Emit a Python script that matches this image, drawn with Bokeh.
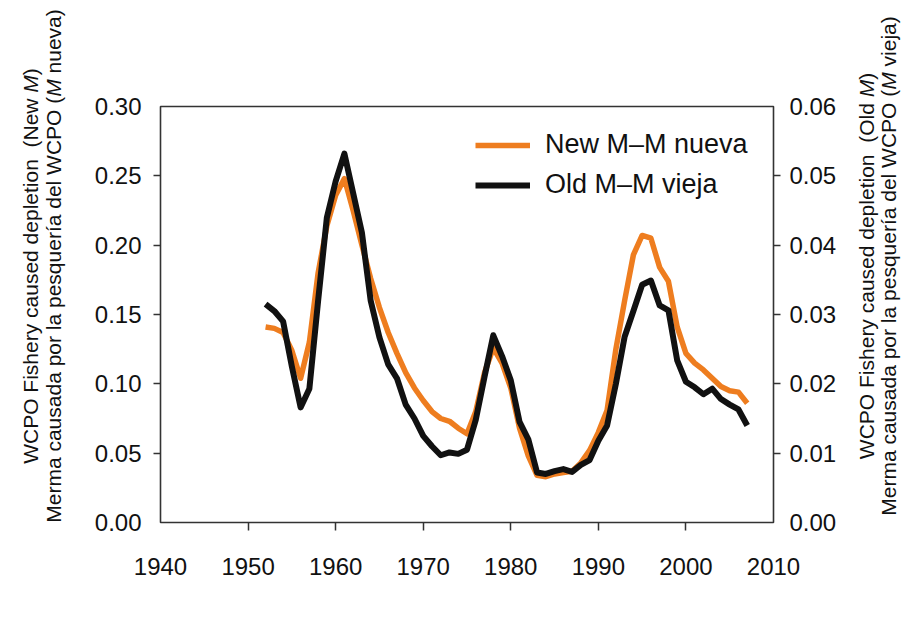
import re
from math import pi
from bokeh.plotting import figure
from bokeh.models import (Range1d, LinearAxis, FixedTicker, PrintfTickFormatter,
                          Legend, LegendItem, ColumnDataSource)
from bokeh.core.properties import value, field
from bokeh.embed import file_html
from bokeh.resources import INLINE

# ---------------- data ----------------
years = list(range(1952, 2008))
new_m = [0.141, 0.140, 0.137, 0.124, 0.104, 0.130, 0.180, 0.214, 0.236, 0.248,
         0.225, 0.200, 0.176, 0.155, 0.137, 0.122, 0.108, 0.097, 0.088, 0.080,
         0.075, 0.073, 0.068, 0.064, 0.080, 0.108, 0.126, 0.115, 0.097, 0.068,
         0.048, 0.034, 0.033, 0.035, 0.036, 0.037, 0.043, 0.052, 0.065, 0.081,
         0.125, 0.160, 0.193, 0.207, 0.205, 0.184, 0.174, 0.141, 0.122, 0.115,
         0.110, 0.104, 0.098, 0.095, 0.094, 0.086]
old_m = [0.0315, 0.0305, 0.0290, 0.0225, 0.0166, 0.0193, 0.0320, 0.0440, 0.0492, 0.0532,
         0.0475, 0.0418, 0.0320, 0.0267, 0.0228, 0.0208, 0.0170, 0.0150, 0.0125, 0.0110,
         0.0097, 0.0101, 0.0099, 0.0105, 0.0148, 0.0210, 0.0270, 0.0240, 0.0205, 0.0145,
         0.0120, 0.0072, 0.0070, 0.0074, 0.0077, 0.0073, 0.0083, 0.0090, 0.0118, 0.0140,
         0.0200, 0.0268, 0.0305, 0.0343, 0.0349, 0.0313, 0.0306, 0.0234, 0.0203, 0.0195,
         0.0185, 0.0193, 0.0178, 0.0170, 0.0163, 0.0140]

x_ticks = [1940, 1950, 1960, 1970, 1980, 1990, 2000, 2010]
left_ticks = [0.0, 0.05, 0.10, 0.15, 0.20, 0.25, 0.30]
right_ticks = [0.0, 0.01, 0.02, 0.03, 0.04, 0.05, 0.06]

legend_labels = ["New M\u2013M nueva", "Old M\u2013M vieja"]
left_title = [[("WCPO Fishery caused depletion  (New ", "normal"), ("M", "italic"), (")", "normal")],
              [("Merma causada por la pesquer\u00eda del WCPO (", "normal"), ("M", "italic"), (" nueva)", "normal")]]
right_title = [[("WCPO Fishery caused depletion  (Old ", "normal"), ("M", "italic"), (")", "normal")],
               [("Merma causada por la pesquer\u00eda del WCPO (", "normal"), ("M", "italic"), (" vieja)", "normal")]]

FONT = "Liberation Sans"
ORANGE = "#EE7D1F"
BLACK = "#111111"
AX = "#333333"

# layout (pixels)
FW, FH = 613, 416
BL, BR, BT, BB = 160, 140, 106, 110
X0, X1 = 1940, 2010
Y0, Y1 = 0.0, 0.30

# ---------------- figure ----------------
p = figure(width=BL + FW + BR, height=BT + FH + BB, x_range=Range1d(X0, X1), y_range=Range1d(Y0, Y1),
           output_backend="svg", toolbar_location=None,
           min_border_left=BL, min_border_right=BR, min_border_top=BT, min_border_bottom=BB)
p.extra_y_ranges = {"right": Range1d(0, 0.06)}
p.xgrid.visible = False
p.ygrid.visible = False
p.outline_line_color = AX
p.outline_line_width = 1.6
p.background_fill_color = "white"
p.border_fill_color = "white"

def style_axis(ax, ticks, standoff, tick_out, fmt):
    ax.ticker = FixedTicker(ticks=ticks, minor_ticks=ticks[1:-1])
    ax.formatter = PrintfTickFormatter(format=fmt)
    ax.axis_line_color = None
    ax.major_tick_line_color = None
    ax.major_tick_out = 0
    ax.major_tick_in = 0
    ax.minor_tick_out = tick_out
    ax.minor_tick_in = 0
    ax.minor_tick_line_color = AX
    ax.minor_tick_line_width = 1.5
    ax.major_label_text_font = FONT
    ax.major_label_text_font_size = "24px"
    ax.major_label_text_color = "#111111"
    ax.major_label_standoff = standoff

style_axis(p.xaxis[0], x_ticks, 27, 8, "%d")
style_axis(p.yaxis[0], left_ticks, 12, 7, "%.2f")
raxis = LinearAxis(y_range_name="right")
style_axis(raxis, right_ticks, 9, 7, "%.2f")
p.add_layout(raxis, "right")

src = ColumnDataSource(dict(year=years, new=new_m, old=old_m))
r_new = p.line("year", "new", source=src, line_color=ORANGE, line_width=5.5, line_join="round")
r_old = p.line("year", "old", source=src, y_range_name="right", line_color=BLACK,
               line_width=6, line_join="round")

legend = Legend(items=[LegendItem(label=legend_labels[0], renderers=[r_new]),
                       LegendItem(label=legend_labels[1], renderers=[r_old])],
                location=(315, 322), padding=0, margin=0, spacing=9,
                glyph_width=55, glyph_height=30, label_height=30, label_standoff=15,
                label_text_font=FONT, label_text_font_size="27px", label_text_color="#111111",
                border_line_color=None, background_fill_alpha=0)
p.add_layout(legend)

# ---------------- rotated axis titles (mixed italic), drawn unclipped ----------------
AW = {' ': 278, '(': 333, ')': 333, '\u2013': 556, '.': 278, 'A': 667, 'C': 722, 'D': 722,
      'F': 611, 'M': 833, 'N': 722, 'O': 778, 'P': 667, 'W': 944, 'a': 556, 'c': 500,
      'd': 556, 'e': 556, 'h': 556, 'i': 222, '\u00ed': 278, 'j': 222, 'l': 222, 'm': 833,
      'n': 556, 'o': 556, 'p': 556, 'q': 556, 'r': 333, 's': 500, 't': 278, 'u': 556,
      'v': 500, 'w': 722, 'y': 500}
TSIZE = 21

def tw(s):
    return sum(AW.get(c, 556) for c in s) * TSIZE / 1000.0

def px_to_x(fx):
    return X0 + fx / FW * (X1 - X0)

def px_to_y(fy):
    return Y0 + fy / FH * (Y1 - Y0)

tx, ty, tt, ts = [], [], [], []

def add_title(segments, fx, center_fy):
    full = "".join(s for s, _ in segments)
    start = center_fy - tw(full) / 2.0
    off = 0.0
    for text, style in segments:
        for m in re.finditer(r"\S+(?: \S+)*", text):
            tx.append(px_to_x(fx))
            ty.append(px_to_y(start + off + tw(text[:m.start()])))
            tt.append(m.group(0))
            ts.append(style)
        off += tw(text)

add_title(left_title[0], -130, 256.5)
add_title(left_title[1], -107, 256.5)
add_title(right_title[0], 706, 256.5)
add_title(right_title[1], 728, 256.5)

tsrc = ColumnDataSource(dict(x=tx, y=ty, text=tt, style=ts))
p.text("x", "y", text="text", source=tsrc, angle=pi / 2, level="overlay",
       text_font=value(FONT), text_font_size=value(f"{TSIZE}px"),
       text_font_style=field("style"), text_color="#111111",
       text_align="left", text_baseline="alphabetic")

open("out.html", "w").write(file_html(p, INLINE))
